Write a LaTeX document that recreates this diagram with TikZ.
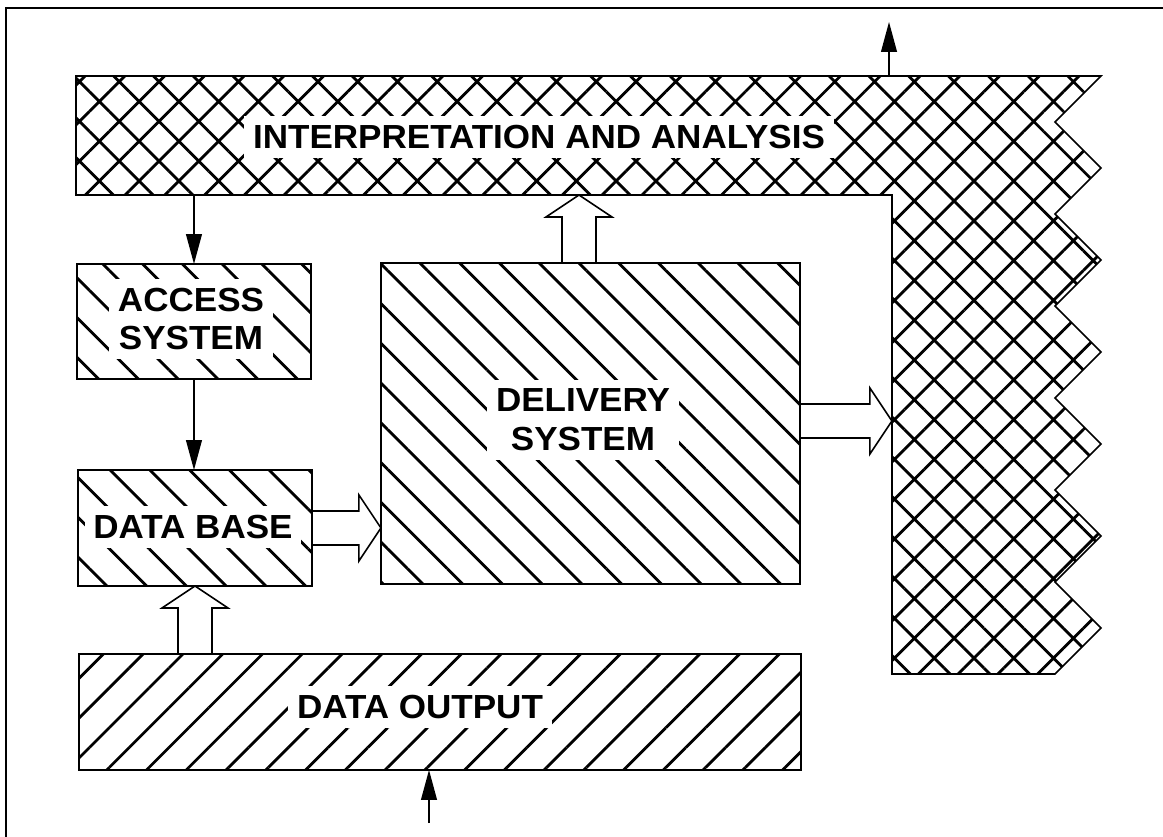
\documentclass[tikz,border=0pt]{standalone}
\usepackage{fontspec}
\setmainfont{Liberation Sans}[FakeStretch=1.05]
\usetikzlibrary{arrows.meta, patterns.meta}

\tikzset{
  outline/.style={draw, line width=0.9pt},
  hatchbox/.style={outline, pattern={Lines[angle=-45,distance=16pt,line width=1.6pt]},
    inner sep=0pt, outer sep=0pt, anchor=north west},
  slantbox/.style={outline, pattern={Lines[angle=45,distance=16pt,line width=1.6pt]},
    inner sep=0pt, outer sep=0pt, anchor=north west},
  crossfill/.style={outline, pattern={Hatch[angle=45,distance=16pt,line width=1.6pt]}},
  boxlabel/.style={fill=white, inner xsep=5pt, inner ysep=5pt, align=center,
    font=\fontsize{19}{22}\selectfont\bfseries},
  arr/.style={line width=0.8pt, -{Triangle[length=17pt,width=9pt]}},
  pics/fatarrow/.style={code={
    \draw[line width=0.9pt] (0,-17) -- (#1,-17) -- (#1,-33) -- (#1+22,0) -- (#1,33) -- (#1,17) -- (0,17);
  }}
}

\begin{document}
\begin{tikzpicture}[x=0.02cm, y=-0.02cm]
  \useasboundingbox (0,0) rectangle (1163,837);
  % frame
  \draw[line width=1pt] (6,837) -- (6,8) -- (1163,8);

  % interpretation and analysis
  \draw[crossfill] (76,76) \foreach \k in {0,...,13} { -- ({1078+23*cos(180*\k)},{76+46*\k}) }
    -- (892,674) -- (892,195) -- (76,195) -- cycle;
  \node[boxlabel] (ia) at (539,137) {INTERPRETATION AND ANALYSIS};
  \coordinate (iabot) at (193,195);
  \coordinate (iabar) at (579,195);
  \coordinate (iatop) at (889,76);
  \coordinate (iaup) at (889,22);
  \coordinate (leg) at (892,421);

  % boxes
  \node[hatchbox, minimum width=4.68cm, minimum height=2.30cm] (access) at (77,264) {};
  \node[boxlabel] (accesstxt) at (191,319) {ACCESS\\SYSTEM};
  \node[hatchbox, minimum width=4.68cm, minimum height=2.32cm] (dbase) at (78,470) {};
  \node[boxlabel] (dbasetxt) at (193,527) {DATA BASE};
  \node[hatchbox, minimum width=8.38cm, minimum height=6.42cm] (deliv) at (381,263) {};
  \node[boxlabel] (delivtxt) at (583,420) {DELIVERY\\SYSTEM};
  \node[slantbox, minimum width=14.44cm, minimum height=2.32cm] (dout) at (79,654) {};
  \node[boxlabel] (douttxt) at (420,707) {DATA OUTPUT};

  % thin arrows
  \draw[arr] (access.north |- iabot) -- (access.north);
  \draw[arr] (access.south) -- (access.south |- dbase.north);
  \draw[arr] (iatop) -- (iaup);
  \coordinate (src) at (429,823);
  \draw[arr] (src) -- (src |- dout.south);

  % hollow arrows
  \pic at (dbase.east) {fatarrow=47};
  \pic at (deliv.east |- leg) {fatarrow=70};
  \pic[rotate=90] at (deliv.north -| iabar) {fatarrow=46};
  \pic[rotate=90] at (dbase.south |- dout.north) {fatarrow=46};
\end{tikzpicture}
\end{document}
